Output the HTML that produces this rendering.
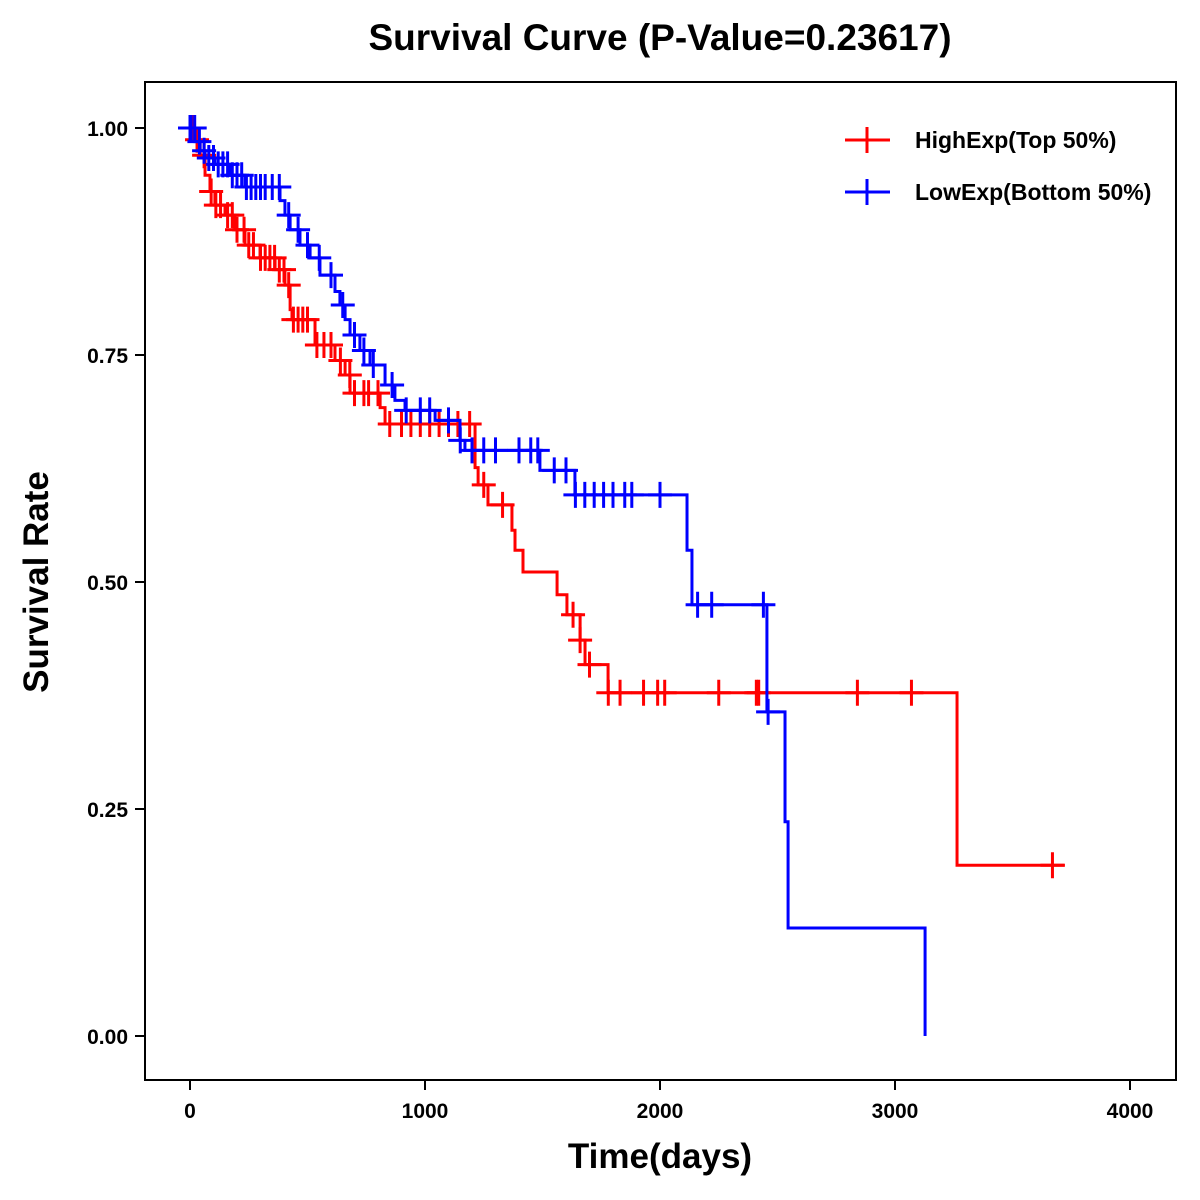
<!DOCTYPE html>
<html><head><meta charset="utf-8"><style>
body{margin:0;background:#fff;}
svg{display:block;font-family:"Liberation Sans",Arial,sans-serif;}
</style></head><body>
<svg id="chart" width="1200" height="1200">
<text x="660" y="50" text-anchor="middle" font-size="37" font-weight="bold">Survival Curve (P-Value=0.23617)</text>
<rect x="145" y="82" width="1031" height="998" fill="none" stroke="#000" stroke-width="2"/>
<text x="660" y="1168" text-anchor="middle" font-size="35" font-weight="bold">Time(days)</text>
<text transform="translate(48,582) rotate(-90)" text-anchor="middle" font-size="35" font-weight="bold">Survival Rate</text>
<g id="axes"></g>
<g id="series"></g>
<g>
<g><line x1="845" y1="140" x2="890" y2="140" stroke="red" stroke-width="3"/><line x1="867" y1="127" x2="867" y2="153" stroke="red" stroke-width="3"/><text x="915" y="148" font-size="23" font-weight="bold">HighExp(Top 50%)</text></g>
<g><line x1="845" y1="192" x2="890" y2="192" stroke="blue" stroke-width="3"/><line x1="867" y1="179" x2="867" y2="205" stroke="blue" stroke-width="3"/><text x="915" y="200" font-size="23" font-weight="bold">LowExp(Bottom 50%)</text></g>
</g>
</svg>
<script>
const xTicks=[0,1000,2000,3000,4000];
const yTicks=[0,0.25,0.5,0.75,1.0];
const yTickLabels=["0.00","0.25","0.50","0.75","1.00"];
const highTimes=[0,21,43,64,85,106,149,191,234,298,362,404,426,434,532,617,660,681,809,830,1213,1226,1268,1370,1383,1417,1562,1604,1660,1681,1779,3264];
const highSurv=[1,0.987,0.97,0.948,0.93,0.915,0.904,0.888,0.871,0.857,0.844,0.827,0.80,0.789,0.761,0.744,0.728,0.708,0.692,0.674,0.626,0.607,0.585,0.557,0.535,0.511,0.486,0.464,0.436,0.409,0.378,0.188];
const highEnd=3723;
const highCensor=[10,30,60,90,110,130,160,180,200,230,250,270,300,320,340,360,380,400,420,440,460,480,500,540,570,600,640,680,700,740,760,800,850,900,940,980,1020,1060,1100,1140,1190,1250,1330,1630,1660,1700,1780,1830,1930,1990,2020,2250,2410,2420,2840,3070,3670];
const lowTimes=[0,21,43,64,106,170,234,383,404,426,468,511,553,617,638,660,681,723,766,830,872,915,1043,1149,1170,1489,1638,2115,2136,2455,2532,2545,3128];
const lowSurv=[1,0.985,0.975,0.967,0.96,0.948,0.935,0.92,0.904,0.888,0.871,0.857,0.838,0.82,0.805,0.789,0.772,0.755,0.739,0.717,0.70,0.689,0.678,0.656,0.645,0.623,0.596,0.535,0.475,0.357,0.236,0.119,0];
const lowEnd=3128;
const lowCensor=[0,5,20,40,60,80,100,120,140,160,180,200,220,240,260,280,300,320,350,380,420,460,500,550,600,650,700,740,780,860,920,980,1020,1100,1150,1200,1250,1300,1400,1450,1480,1550,1600,1640,1680,1720,1760,1800,1850,1880,2000,2160,2220,2440,2460];

const NS="http://www.w3.org/2000/svg";
const X=d=>190+d*0.235;
const Y=s=>1036-s*908;
function mk(tag,attrs,parent){const e=document.createElementNS(NS,tag);for(const k in attrs)e.setAttribute(k,attrs[k]);parent.appendChild(e);return e;}
const axes=document.getElementById('axes');
xTicks.forEach(t=>{
  const l=mk('line',{x1:X(t),x2:X(t),y1:1080,y2:1090,stroke:'#000','stroke-width':2},axes);
  
  
  const tx=mk('text',{x:X(t),y:1118,'text-anchor':'middle','font-size':21,'font-weight':'bold'},axes);
  tx.textContent=t;
  
  
});
yTicks.forEach((t,i)=>{
  const l=mk('line',{x1:135,x2:145,y1:Y(t),y2:Y(t),stroke:'#000','stroke-width':2},axes);
  
  
  const tx=mk('text',{x:128,y:Y(t)+8,'text-anchor':'end','font-size':21,'font-weight':'bold'},axes);
  tx.textContent=yTickLabels[i];
  
  
});
const series=document.getElementById('series');
function survAt(times,surv,t){let s=surv[0];for(let i=0;i<times.length;i++){if(times[i]<=t)s=surv[i];}return s;}
function draw(times,surv,end,cens,color,name){
  const g=mk('g',{},series);
  
  
  let d='M'+X(times[0])+','+Y(surv[0]);
  for(let i=1;i<times.length;i++){d+=' H'+X(times[i])+' V'+Y(surv[i]);}
  d+=' H'+X(end);
  const p=mk('path',{d:d,fill:'none',stroke:color,'stroke-width':3},g);
  
  
  cens.forEach(c=>{
    const s=survAt(times,surv,c);
    const cx=X(c),cy=Y(s);
    const m=mk('path',{d:`M${cx-12},${cy} H${cx+12} M${cx},${cy-13} V${cy+13}`,stroke:color,'stroke-width':3,fill:'none'},g);
    
    
  });
}
draw(highTimes,highSurv,highEnd,highCensor,'red','high-exp');
draw(lowTimes,lowSurv,lowEnd,lowCensor,'blue','low-exp');
</script>
</body></html>
